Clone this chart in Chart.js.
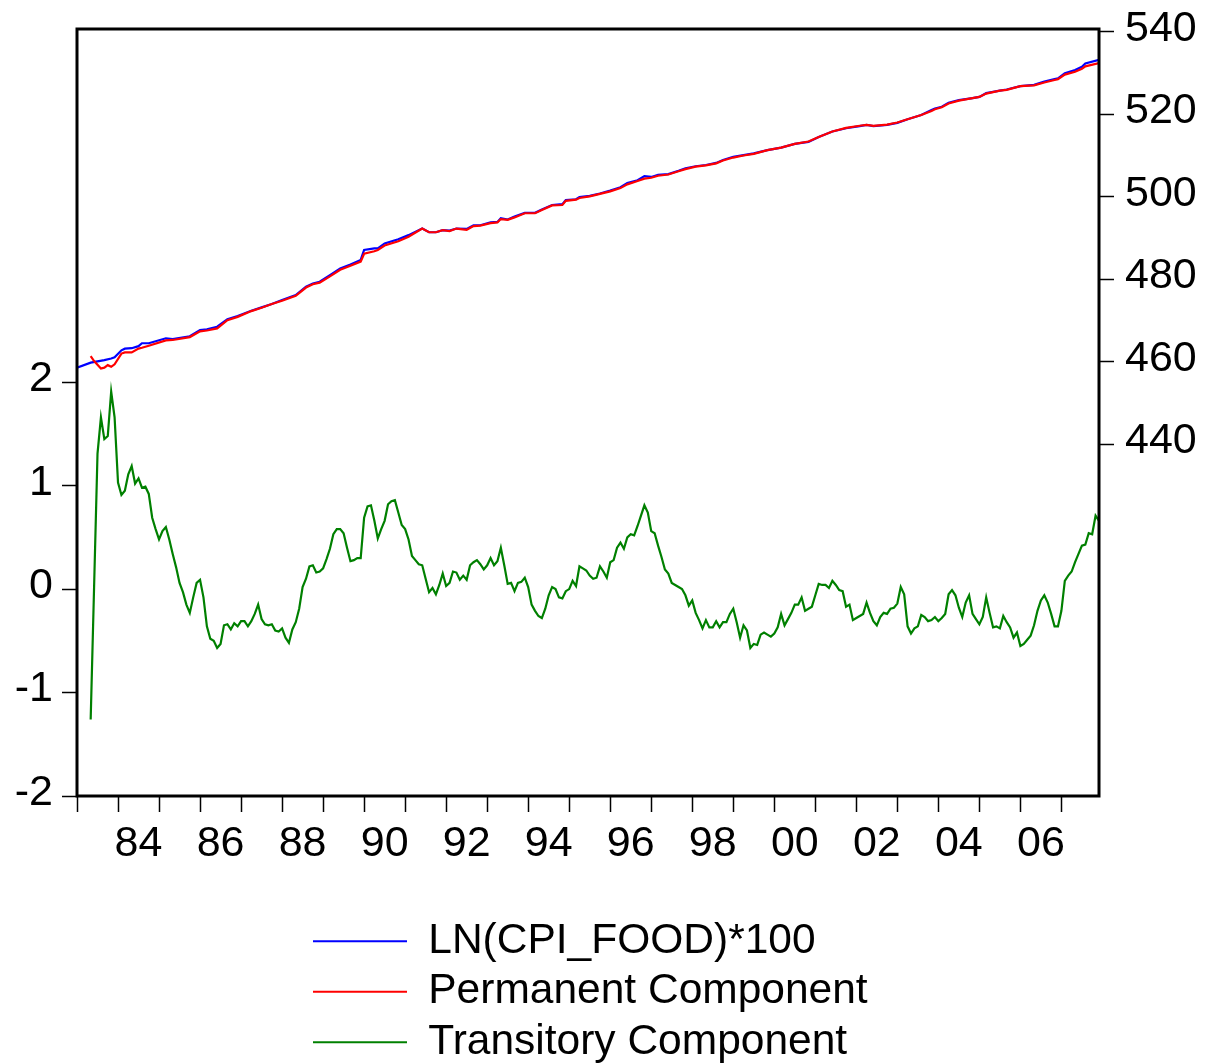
<!DOCTYPE html>
<html lang="en">
<head>
<meta charset="UTF-8">
<title>LN(CPI_FOOD)*100 - permanent and transitory components</title>
<script src="https://cdn.jsdelivr.net/npm/chart.js@4.4.1/dist/chart.umd.min.js"></script>
<style>
html, body { margin: 0; padding: 0; background: #fff; }
#chartBox { width: 1205px; height: 1064px; }
</style>
</head>
<body>
<div id="chartBox"><canvas id="myChart" width="1205" height="1064"></canvas></div>

<script>
// x values are months counted from 1983M01 (= 0) up to 2007M12 (= 299)
var firstYear = 1983;
var lastYear = 2007;
var lastMonth = 299;

// bottom axis labels (written in the middle of the year)
var labelYears = [1984, 1986, 1988, 1990, 1992, 1994, 1996, 1998, 2000, 2002, 2004, 2006];
var yearLabels = ['84', '86', '88', '90', '92', '94', '96', '98', '00', '02', '04', '06'];

var leftTicks = [-2, -1, 0, 1, 2];
var rightTicks = [440, 460, 480, 500, 520, 540];

// LN(CPI_FOOD)*100 at the kinks of the line
var cpiMonths = [0, 4, 8, 10, 11, 13, 14, 16, 18, 19, 21, 26, 28, 33, 36, 38, 41, 44, 47, 51,
  54, 57, 60, 64, 67, 69, 71, 74, 77, 80, 83, 84, 87, 88, 90, 94, 97, 101, 103, 105,
  107, 109, 111, 114, 116, 118, 121, 123, 124, 126, 128, 131, 134, 136, 139, 142, 143, 146, 147, 150,
  153, 156, 159, 161, 164, 166, 168, 170, 173, 176, 178, 181, 184, 187, 189, 192, 195, 198, 202, 206,
  210, 214, 217, 221, 225, 229, 231, 233, 237, 240, 243, 247, 250, 251, 253, 255, 258, 262, 264, 266,
  270, 272, 276, 280, 283, 286, 287, 289, 292, 294, 295, 299];
var cpiValues = [458.6, 459.8, 460.4, 460.8, 461.1, 462.8, 463.2, 463.3, 463.8, 464.5, 464.5, 465.7, 465.5, 466.2, 467.7, 467.9, 468.5, 470.3, 471.1, 472.4,
  473.2, 474.0, 475.0, 476.2, 478.2, 479.0, 479.4, 481.0, 482.6, 483.6, 484.7, 487.1, 487.5, 487.5, 488.7, 489.7, 490.7, 492.3, 491.4, 491.4,
  491.9, 491.8, 492.3, 492.2, 493.1, 493.1, 493.8, 493.9, 494.8, 494.5, 495.2, 496.1, 496.1, 496.9, 498.0, 498.2, 499.2, 499.4, 499.9, 500.2,
  500.8, 501.5, 502.3, 503.3, 504.0, 505.0, 504.8, 505.3, 505.5, 506.3, 506.9, 507.4, 507.7, 508.2, 508.9, 509.7, 510.1, 510.5, 511.3, 511.9,
  512.8, 513.3, 514.5, 515.8, 516.6, 517.1, 517.4, 517.1, 517.4, 517.9, 518.8, 519.8, 521.0, 521.4, 521.8, 522.8, 523.4, 523.9, 524.2, 525.1,
  525.7, 526.0, 526.8, 527.1, 527.9, 528.5, 528.7, 529.9, 530.7, 531.5, 532.3, 533.2];

// Permanent Component
var permMonths = [4, 5, 7, 8, 9, 10, 11, 13, 14, 16, 18, 19, 21, 26, 28, 33, 36, 38, 41, 44,
  47, 51, 54, 57, 60, 64, 67, 69, 71, 74, 77, 80, 83, 84, 87, 88, 90, 94, 97, 101,
  103, 105, 107, 109, 111, 114, 116, 118, 121, 123, 124, 126, 128, 131, 134, 136, 139, 142, 143, 146,
  147, 150, 153, 156, 159, 161, 164, 166, 168, 170, 173, 176, 178, 181, 184, 187, 189, 192, 195, 198,
  202, 206, 210, 214, 217, 221, 225, 229, 231, 233, 237, 240, 243, 247, 250, 251, 253, 255, 258, 262,
  264, 266, 270, 272, 276, 280, 283, 286, 287, 289, 292, 294, 295, 299];
var permValues = [461.4, 460.2, 458.4, 458.6, 459.2, 458.8, 459.4, 462.0, 462.3, 462.3, 463.2, 463.4, 463.9, 465.2, 465.3, 466.0, 467.4, 467.6, 468.1, 470.1,
  470.9, 472.3, 473.1, 474.0, 474.8, 476.0, 478.0, 478.8, 479.2, 480.7, 482.3, 483.3, 484.3, 486.2, 486.8, 487.1, 488.2, 489.2, 490.3, 492.3,
  491.4, 491.4, 491.9, 491.7, 492.3, 492.0, 492.9, 493.0, 493.6, 493.8, 494.6, 494.4, 495.0, 496.0, 496.0, 496.8, 497.9, 498.0, 499.0, 499.3,
  499.7, 500.1, 500.7, 501.3, 502.1, 503.0, 503.8, 504.4, 504.6, 505.1, 505.4, 506.2, 506.7, 507.3, 507.6, 508.1, 508.8, 509.5, 510.0, 510.4,
  511.3, 511.9, 512.8, 513.4, 514.5, 515.8, 516.7, 517.2, 517.4, 517.2, 517.5, 518.0, 518.8, 519.8, 520.8, 521.2, 521.7, 522.6, 523.3, 523.9,
  524.2, 525.0, 525.7, 525.9, 526.8, 527.0, 527.7, 528.3, 528.5, 529.6, 530.3, 531.0, 531.6, 532.4];

// Transitory Component, monthly from 1983M05 (month 4)
var transStart = 4;
var transitory = [
  -1.26, 0.02, 1.31, 1.66, 1.45, 1.48, 1.91, 1.66,
  1.03, 0.91, 0.95, 1.11, 1.19, 1.02, 1.07, 0.98, 0.99, 0.92, 0.69, 0.58,
  0.48, 0.56, 0.60, 0.48, 0.34, 0.21, 0.06, -0.03, -0.15, -0.23, -0.08, 0.06,
  0.09, -0.08, -0.36, -0.48, -0.50, -0.57, -0.53, -0.35, -0.34, -0.39, -0.33, -0.36,
  -0.31, -0.31, -0.36, -0.31, -0.24, -0.15, -0.29, -0.34, -0.35, -0.34, -0.40, -0.41,
  -0.38, -0.47, -0.52, -0.39, -0.32, -0.19, 0.02, 0.10, 0.22, 0.23, 0.16, 0.17,
  0.20, 0.29, 0.39, 0.53, 0.58, 0.58, 0.54, 0.40, 0.27, 0.28, 0.30, 0.30,
  0.69, 0.80, 0.81, 0.66, 0.49, 0.58, 0.66, 0.82, 0.85, 0.86, 0.74, 0.62,
  0.58, 0.48, 0.32, 0.28, 0.24, 0.23, 0.10, -0.03, 0.01, -0.05, 0.04, 0.15,
  0.03, 0.06, 0.17, 0.16, 0.09, 0.13, 0.09, 0.23, 0.26, 0.28, 0.24, 0.19,
  0.23, 0.30, 0.23, 0.27, 0.40, 0.23, 0.05, 0.06, -0.02, 0.06, 0.07, 0.11,
  0.02, -0.15, -0.21, -0.26, -0.28, -0.19, -0.06, 0.02, 0.00, -0.08, -0.09, -0.02,
  0.00, 0.08, 0.03, 0.22, 0.20, 0.18, 0.13, 0.10, 0.11, 0.22, 0.17, 0.11,
  0.26, 0.28, 0.40, 0.45, 0.39, 0.50, 0.53, 0.52, 0.61, 0.71, 0.81, 0.74,
  0.56, 0.54, 0.42, 0.31, 0.19, 0.15, 0.06, 0.04, 0.02, 0.00, -0.06, -0.16,
  -0.11, -0.23, -0.30, -0.38, -0.30, -0.37, -0.37, -0.31, -0.37, -0.32, -0.32, -0.24,
  -0.19, -0.32, -0.47, -0.35, -0.40, -0.57, -0.53, -0.54, -0.44, -0.42, -0.44, -0.46,
  -0.43, -0.37, -0.24, -0.35, -0.29, -0.23, -0.15, -0.15, -0.08, -0.21, -0.19, -0.17,
  -0.06, 0.05, 0.04, 0.04, 0.01, 0.08, 0.04, -0.01, -0.02, -0.17, -0.15, -0.30,
  -0.28, -0.26, -0.24, -0.13, -0.23, -0.31, -0.35, -0.27, -0.23, -0.24, -0.19, -0.18,
  -0.14, 0.02, -0.05, -0.36, -0.43, -0.38, -0.36, -0.25, -0.27, -0.31, -0.30, -0.27,
  -0.31, -0.28, -0.24, -0.05, -0.01, -0.06, -0.18, -0.27, -0.13, -0.06, -0.24, -0.29,
  -0.34, -0.27, -0.08, -0.23, -0.37, -0.36, -0.38, -0.26, -0.32, -0.37, -0.47, -0.42,
  -0.55, -0.53, -0.49, -0.45, -0.35, -0.21, -0.11, -0.06, -0.13, -0.24, -0.36, -0.36,
  -0.21, 0.08, 0.13, 0.17, 0.26, 0.34, 0.42, 0.43, 0.54, 0.53, 0.71, 0.66
];

function toPoints(months, values) {
  return months.map(function(m, i) { return {x: m, y: values[i]}; });
}
var transMonths = transitory.map(function(v, i) { return transStart + i; });

// month where each bottom label sits (middle of its year)
var labelMonths = labelYears.map(function(y) { return (y - firstYear) * 12 + 6; });

var fontFamily = "'Liberation Sans', Arial, Helvetica, sans-serif";
Chart.defaults.font.family = fontFamily;
Chart.defaults.color = '#000';

// black box round the plot area
var framePlugin = {
  id: 'frame',
  afterDatasetsDraw: function(chart) {
    var a = chart.chartArea;
    var ctx = chart.ctx;
    ctx.save();
    ctx.strokeStyle = '#000';
    ctx.lineWidth = 3;
    ctx.strokeRect(a.left, a.top, a.right - a.left, a.bottom - a.top);
    ctx.restore();
  }
};

// legend rows start at the same x, under the middle of the plot
var legendPlace = {
  id: 'legendPlace',
  afterLayout: function(chart) {
    chart.legend.left = 305;
    chart.legend.right = chart.chartArea.right;
  }
};

// y axes: no extra room for half labels at the ends
function noEndPadding(scale) {
  scale.paddingTop = 0;
  scale.paddingBottom = 0;
}

var ctx = document.getElementById('myChart').getContext('2d');
var myChart = new Chart(ctx, {
  type: 'line',
  data: {
    datasets: [{
      label: 'LN(CPI_FOOD)*100',
      data: toPoints(cpiMonths, cpiValues),
      yAxisID: 'y1',
      borderColor: '#0000ff',
      backgroundColor: '#0000ff',
      borderWidth: 2.2,
      pointRadius: 0,
      order: 2
    }, {
      label: 'Permanent Component',
      data: toPoints(permMonths, permValues),
      yAxisID: 'y1',
      borderColor: '#ff0000',
      backgroundColor: '#ff0000',
      borderWidth: 2.2,
      pointRadius: 0,
      order: 1
    }, {
      label: 'Transitory Component',
      data: toPoints(transMonths, transitory),
      yAxisID: 'y',
      borderColor: '#008000',
      backgroundColor: '#008000',
      borderWidth: 2.2,
      pointRadius: 0,
      order: 3
    }]
  },
  options: {
    responsive: false,
    animation: false,
    devicePixelRatio: 1,
    layout: { padding: { top: 29, left: 0, right: 0, bottom: 0 } },
    plugins: {
      tooltip: { enabled: false },
      legend: {
        position: 'bottom',
        align: 'start',
        fullSize: false,
        maxHeight: 152,
        labels: {
          usePointStyle: true,
          pointStyle: 'line',
          pointStyleWidth: 94,
          padding: 8,
          color: '#000',
          font: { size: 42.5, family: fontFamily },
          sort: function(a, b) { return a.datasetIndex - b.datasetIndex; }
        }
      }
    },
    scales: {
      x: {
        type: 'linear',
        min: 0,
        max: lastMonth,
        afterBuildTicks: function(scale) {
          var t = [];
          for (var y = firstYear; y <= lastYear; y++) t.push({ value: (y - firstYear) * 12 });
          labelMonths.forEach(function(m) { t.push({ value: m }); });
          t.sort(function(a, b) { return a.value - b.value; });
          scale.ticks = t;
        },
        afterFit: function(scale) { scale.height = 116; },
        border: { display: false },
        grid: {
          drawOnChartArea: false,
          tickLength: 16,
          tickWidth: 1.5,
          tickColor: function(c) {
            return (c.tick && c.tick.value % 12 === 0) ? '#000' : 'rgba(0,0,0,0)';
          }
        },
        ticks: {
          autoSkip: false,
          maxRotation: 0,
          padding: 6,
          color: '#000',
          font: { size: 43 },
          callback: function(v) {
            var i = labelMonths.indexOf(v);
            return i >= 0 ? yearLabels[i] : '';
          }
        }
      },
      y: {
        position: 'left',
        min: -2,
        max: 5.414,
        afterBuildTicks: function(scale) {
          scale.ticks = leftTicks.map(function(v) { return { value: v }; });
        },
        afterFit: function(scale) { scale.width = 77; noEndPadding(scale); },
        border: { display: false },
        grid: { drawOnChartArea: false, tickLength: 15, tickWidth: 1.5, tickColor: '#000' },
        ticks: { padding: 9, labelOffset: -3, color: '#000', font: { size: 43 }, callback: function(v) { return String(v); } }
      },
      y1: {
        position: 'right',
        min: 354.8,
        max: 540.65,
        afterBuildTicks: function(scale) {
          scale.ticks = rightTicks.map(function(v) { return { value: v }; });
        },
        afterFit: function(scale) { scale.width = 106; noEndPadding(scale); },
        border: { display: false },
        grid: { drawOnChartArea: false, tickLength: 15, tickWidth: 1.5, tickColor: '#000' },
        ticks: { padding: 11, labelOffset: -3, color: '#000', font: { size: 43 }, callback: function(v) { return String(v); } }
      }
    }
  },
  plugins: [framePlugin, legendPlace]
});
</script>
</body>
</html>
